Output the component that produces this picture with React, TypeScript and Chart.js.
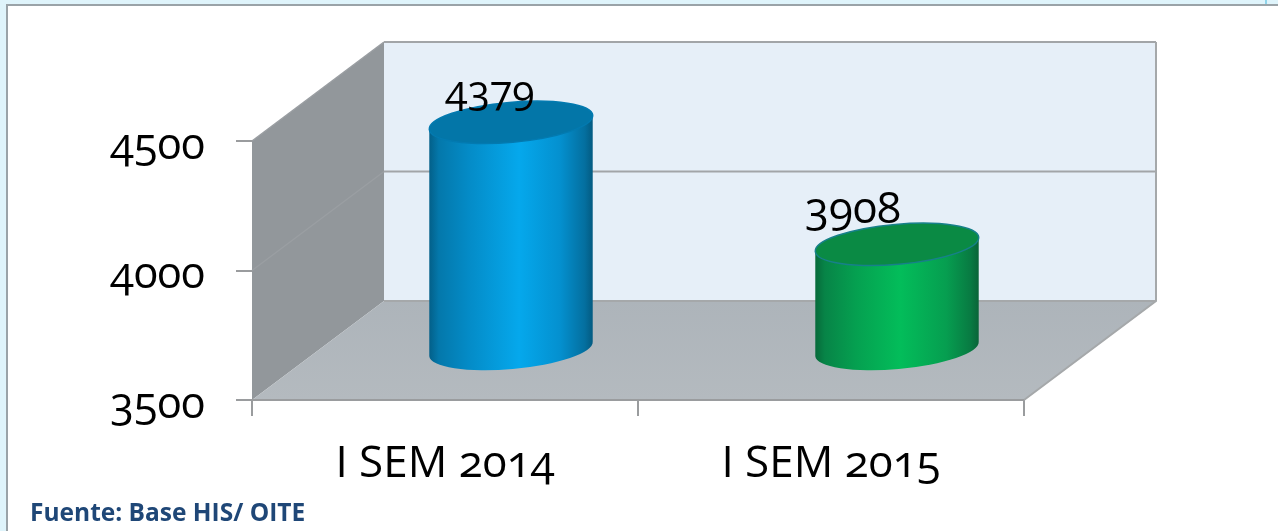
import React, { useEffect, useRef } from "react";
import { Chart, registerables } from "chart.js";

Chart.register(...registerables);

const categories = ["I SEM 2014", "I SEM 2015"];
const values = [4379, 3908];
const yMin = 3500;
const yMax = 4500;
const yStep = 500;
const sourceNote = "Fuente: Base HIS/ OITE";

const sideStops = [
  [
    [0, "#035f88"],
    [0.06, "#0478ab"],
    [0.25, "#048cc8"],
    [0.55, "#05a8ec"],
    [0.8, "#0490cf"],
    [0.95, "#046f9f"],
    [1, "#035a80"],
  ],
  [
    [0, "#07693a"],
    [0.06, "#078447"],
    [0.25, "#05a050"],
    [0.52, "#03bd5a"],
    [0.8, "#069e50"],
    [0.95, "#087a42"],
    [1, "#0a6338"],
  ],
] as [number, string][][];
const capColors = ["#0376a8", "#0a8a44"];
const capEdges = ["#037ab0", "#17808a"];
const labelNudge = [
  [-21, -30],
  [-44, -34],
];
const labelSizes = [41, 44];

const FONT = "'Open Sans', 'Noto Sans', sans-serif";
const DEPTH_X = 132;
const DEPTH_Y = -99;
const BAR_DX = 66;
const BAR_DY = -50;
const CAP_RY = 20;
const TILT = (-5 * Math.PI) / 180;

const walls = {
  id: "walls",
  beforeDatasetsDraw(chart: any) {
    const { ctx, chartArea: a, scales } = chart;
    const y = scales.y;
    const poly = (pts: number[][], fill: any) => {
      ctx.beginPath();
      pts.forEach((p, i) => (i ? ctx.lineTo(p[0], p[1]) : ctx.moveTo(p[0], p[1])));
      ctx.closePath();
      ctx.fillStyle = fill;
      ctx.fill();
    };
    const line = (pts: number[][], color = "#a2a5a8", w = 2) => {
      ctx.beginPath();
      pts.forEach((p, i) => (i ? ctx.lineTo(p[0], p[1]) : ctx.moveTo(p[0], p[1])));
      ctx.strokeStyle = color;
      ctx.lineWidth = w;
      ctx.stroke();
    };
    const bl = a.left + DEPTH_X;
    const br = a.right + DEPTH_X;
    const bt = a.top + DEPTH_Y;
    const bb = a.bottom + DEPTH_Y;
    ctx.save();
    poly([[bl, bt], [br, bt], [br, bb], [bl, bb]], "#e6eff8");
    poly([[a.left, a.top], [bl, bt], [bl, bb], [a.left, a.bottom]], "#92979b");
    const floorGrad = ctx.createLinearGradient(0, bb, 0, a.bottom);
    floorGrad.addColorStop(0, "#adb4ba");
    floorGrad.addColorStop(1, "#b4babf");
    poly([[a.left, a.bottom], [bl, bb], [br, bb], [a.right, a.bottom]], floorGrad);
    for (let v = yMin; v <= yMax; v += yStep) {
      const py = y.getPixelForValue(v);
      if (v > yMin) {
        line([[a.left, py], [bl, py + DEPTH_Y]], "#9a9ea2", 1.5);
        line([[bl, py + DEPTH_Y], [br, py + DEPTH_Y]], "#a2a5a8", 2);
      }
    }
    line([[br, bt], [br, bb], [a.right, a.bottom]], "#a5a8aa", 2);
    line([[bl, bb], [br, bb]], "#a5a8aa", 2);
    line([[a.left, a.bottom], [a.right, a.bottom]], "#9a9c9e", 2);
    ctx.restore();
  },
};

const cylinders = {
  id: "cylinders",
  afterDatasetsDraw(chart: any) {
    const { ctx } = chart;
    const meta = chart.getDatasetMeta(0);
    ctx.save();
    meta.data.forEach((bar: any, i: number) => {
      const { x, y, base, width } = bar.getProps(["x", "y", "base", "width"], true);
      const cx = x + BAR_DX;
      const top = y + BAR_DY;
      const bottom = base + BAR_DY;
      const rx = width / 2;
      const grad = ctx.createLinearGradient(cx - rx, 0, cx + rx, 0);
      sideStops[i].forEach(([o, c]) => grad.addColorStop(o, c));
      ctx.beginPath();
      ctx.ellipse(cx, bottom, rx, CAP_RY, TILT, 0, Math.PI);
      ctx.ellipse(cx, top, rx, CAP_RY, TILT, Math.PI, 2 * Math.PI);
      ctx.closePath();
      ctx.fillStyle = grad;
      ctx.fill();
      ctx.beginPath();
      ctx.ellipse(cx, top, rx, CAP_RY, TILT, 0, 2 * Math.PI);
      ctx.fillStyle = capColors[i];
      ctx.fill();
      ctx.strokeStyle = capEdges[i];
      ctx.lineWidth = 1.5;
      ctx.stroke();

      ctx.fillStyle = "#000";
      ctx.font = `${labelSizes[i]}px ${FONT}`;
      ctx.textAlign = "center";
      ctx.textBaseline = "middle";
      ctx.fillText(String(values[i]), cx + labelNudge[i][0], top + labelNudge[i][1]);
    });
    ctx.restore();
  },
};

export default function App() {
  const ref = useRef<HTMLCanvasElement>(null);
  useEffect(() => {
    const chart = new Chart(ref.current!, {
      type: "bar",
      data: {
        labels: categories,
        datasets: [
          {
            data: values,
            base: yMin,
            backgroundColor: "transparent",
            categoryPercentage: 1,
            barPercentage: 0.425,
          },
        ],
      },
      options: {
        responsive: false,
        animation: false,
        layout: { padding: { left: 0, right: 254, top: 141, bottom: 0 } },
        plugins: {
          legend: { display: false },
          title: { display: false },
          tooltip: { enabled: false },
        },
        scales: {
          x: {
            afterFit: (s: any) => {
              s.height = 131;
            },
            grid: {
              drawOnChartArea: false,
              color: "#9a9c9e",
              lineWidth: 2,
              tickLength: 16,
            },
            border: { display: false },
            ticks: {
              color: "#000",
              padding: 22,
              maxRotation: 0,
              font: { family: FONT, size: 44 },
            },
          },
          y: {
            min: yMin,
            max: yMax,
            afterFit: (s: any) => {
              s.width = 252;
            },
            grid: {
              drawOnChartArea: false,
              color: "#9a9c9e",
              lineWidth: 2,
              tickLength: 16,
            },
            border: { display: false },
            ticks: {
              color: "#000",
              stepSize: yStep,
              padding: 31,
              callback: (v: any) => ["", String(v)],
              font: { family: FONT, size: 43.5, lineHeight: 0.24 },
            },
          },
        },
      },
      plugins: [walls, cylinders],
    } as any);
    return () => chart.destroy();
  }, []);

  return (
    <div
      style={{
        position: "fixed",
        left: 0,
        top: 0,
        width: 1278,
        height: 531,
        background: "#dff4fb",
        overflow: "hidden",
      }}
    >
      <div
        style={{
          position: "absolute",
          left: 6,
          top: 4,
          width: 1272,
          height: 527,
          boxSizing: "border-box",
          background: "#fff",
          borderLeft: "2px solid #9aa3a8",
          borderTop: "2px solid #9aa3a8",
        }}
      />
      <div
        style={{
          position: "absolute",
          left: 1265,
          top: 0,
          width: 2,
          height: 4,
          background: "#8fd4ea",
        }}
      />
      <canvas
        ref={ref}
        width={1278}
        height={531}
        style={{
          position: "absolute",
          left: 0,
          top: 0,
          display: "block",
          fontFeatureSettings: '"onum"',
        }}
      />
      <div
        style={{
          position: "absolute",
          left: 30,
          top: 497,
          fontFamily: FONT,
          fontWeight: 700,
          fontSize: 24.5,
          lineHeight: "30px",
          color: "#1f4777",
          whiteSpace: "nowrap",
        }}
      >
        {sourceNote}
      </div>
    </div>
  );
}
